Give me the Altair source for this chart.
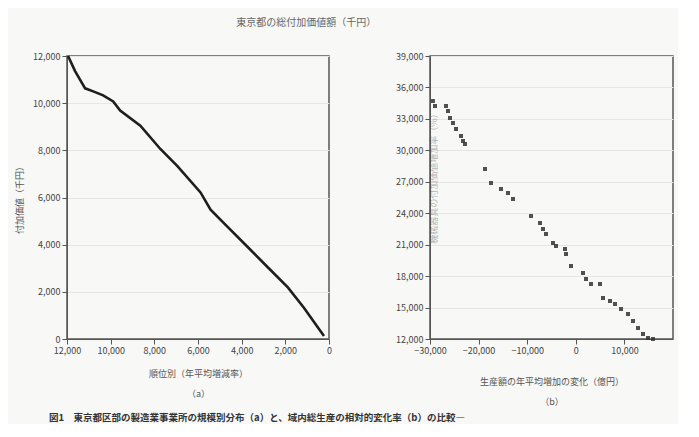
import altair as alt
import pandas as pd

FONT = "Noto Sans CJK JP"

# ---- left panel (a): values ----
left_x = [11950, 11630, 11170, 10800, 10345, 9885, 9565, 8640, 7724, 6943,
          5885, 5425, 4644, 3724, 2805, 1885, 1150, 230]
left_y = [12000, 11357, 10629, 10500, 10329, 10071, 9686, 9043, 8057, 7329,
          6214, 5486, 4757, 3900, 3043, 2186, 1329, 129]
left_xticks = [12000, 10000, 8000, 6000, 4000, 2000, 0]
left_yticks = [0, 2000, 4000, 6000, 8000, 10000, 12000]

# ---- right panel (b) ----
right_x = [-29400, -28970, -26710, -26300, -25885, -25270, -24650, -23620, -23210,
           -22800, -18683, -17450, -15390, -13950, -12920, -9220, -7370, -6750,
           -6130, -4690, -4075, -2220, -2015, -990, 1480, 2100, 3130, 4980, 5600,
           7040, 8065, 9300, 10740, 11770, 12800, 13830, 14860, 15890]
right_y = [34705, 34228, 34230, 33751, 33083, 32606, 32034, 31366, 30889,
           30603, 28218, 26882, 26310, 25928, 25356, 23734, 23066, 22494,
           22017, 21158, 20872, 20586, 20109, 18964, 18296, 17724, 17247, 17247,
           15911, 15625, 15339, 14862, 14385, 13717, 13049, 12477, 12095, 12000]
right_xticks = [-30000, -20000, -10000, 0, 10000]
right_yticks = [12000, 15000, 18000, 21000, 24000, 27000, 30000, 33000, 36000, 39000]

header = "東京都の総付加価値額（千円）"
caption = ["図1　東京都区部の製造業事業所の規模別分布（a）と、域内総生産の相対的変化率（b）の比較―",
           "　　ストックの時系列変化"]

left_df = pd.DataFrame({"x": left_x, "y": left_y})
right_df = pd.DataFrame({"x": right_x, "y": right_y})
cap_df = pd.DataFrame({"row": [0, 1], "line": caption})

axis_common = dict(labelFont=FONT, titleFont=FONT, labelFontSize=9, titleFontSize=9,
                   labelColor="#444", titleColor="#555", tickColor="#555",
                   domainColor="#555", titleFontWeight="normal", labelFlush=False)

left = alt.Chart(left_df).mark_line(color="#1e1e1e", strokeWidth=2.6).encode(
    x=alt.X("x:Q", scale=alt.Scale(domain=[0, 12000], reverse=True, nice=False),
            axis=alt.Axis(values=left_xticks, format=",.0f", grid=False,
                          title=["順位別（年平均増減率）", "（a）"], titlePadding=14,
                          titleLineHeight=20, **axis_common)),
    y=alt.Y("y:Q", scale=alt.Scale(domain=[0, 12000], nice=False),
            axis=alt.Axis(values=left_yticks, format=",.0f", grid=True, gridColor="#e6e6e6",
                          title="付加価値（千円）", titlePadding=8, **axis_common)),
).properties(width=262, height=283)

right = alt.Chart(right_df).mark_square(color="#333", size=16, opacity=0.85).encode(
    x=alt.X("x:Q", scale=alt.Scale(domain=[-30000, 20000], nice=False),
            axis=alt.Axis(values=right_xticks, format=",.0f", grid=False,
                          title=["生産額の年平均増加の変化（億円）", "（b）"], titlePadding=22,
                          titleLineHeight=20, **axis_common)),
    y=alt.Y("y:Q", scale=alt.Scale(domain=[12000, 39000], nice=False),
            axis=alt.Axis(values=right_yticks, format=",.0f", grid=True, gridColor="#e6e6e6",
                          title="機械器具の付加価値増加率（%）", titleX=8, titleY=120,
                          titleOpacity=0.45, **axis_common)),
).properties(width=243, height=283)

cap = alt.Chart(cap_df).mark_text(align="left", baseline="middle", font=FONT,
                                  fontSize=9.5, color="#333", fontWeight="bold").encode(
    x=alt.value(-18),
    y=alt.Y("row:O", axis=None),
    text="line:N",
).properties(width=480, height=24, view=alt.ViewBackground(strokeOpacity=0))

top = alt.hconcat(left, right, spacing=61)

chart = alt.vconcat(top, cap, spacing=5).properties(
    title=alt.Title(header, font=FONT, fontSize=10, color="#666", fontWeight="normal",
                    anchor="middle", offset=22, dx=-38),
    background="#f8f8f6",
    padding={"left": 6, "top": 10, "right": 4, "bottom": -12},
).configure_view(stroke="#555", strokeWidth=1.5)

chart.save("out.html", embed_options={"renderer": "svg", "actions": False})
